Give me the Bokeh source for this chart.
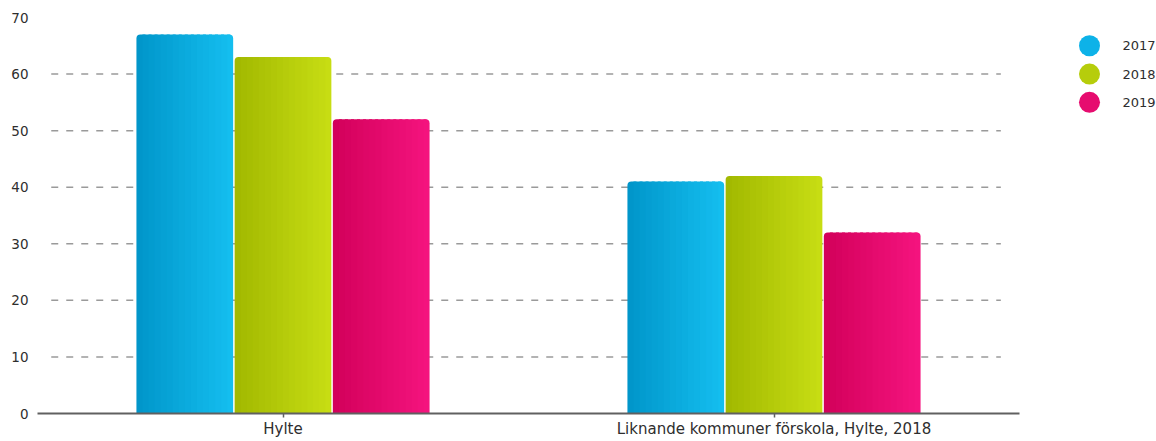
from bokeh.plotting import figure
from bokeh.models import FactorRange, Range1d, ColumnDataSource, FixedTicker
from bokeh.layouts import row
from bokeh.transform import dodge
from bokeh.core.properties import value
from bokeh.embed import file_html
from bokeh.resources import INLINE

# ---- data ----
categories = ["Hylte", "Liknande kommuner förskola, Hylte, 2018"]
years = ["2017", "2018", "2019"]
v2017 = [67, 41]
v2018 = [63, 42]
v2019 = [52, 32]
y_ticks = [0, 10, 20, 30, 40, 50, 60, 70]
grid_values = [10, 20, 30, 40, 50, 60]

grad_left = ["#0095c9", "#a1b800", "#d2005a"]
grad_right = ["#15bff0", "#c8de14", "#f5147f"]
legend_colors = ["#0db2e8", "#b6cd0b", "#e60c6f"]

FONT = "DejaVu Sans"
TXT = "#2e2e2e"


def hex2rgb(h):
    h = h.lstrip("#")
    return tuple(int(h[i:i + 2], 16) for i in (0, 2, 4))


def mix(c1, c2, t):
    a, b = hex2rgb(c1), hex2rgb(c2)
    return "#%02x%02x%02x" % tuple(round(a[k] + (b[k] - a[k]) * t) for k in range(3))


W_TOTAL = 1156
W_MAIN = 1029
H = 441

y_range = Range1d(0, 70)
p = figure(x_range=FactorRange(*categories), y_range=y_range,
           width=W_MAIN, height=H, output_backend="svg", toolbar_location=None,
           min_border_left=37, min_border_top=17, min_border_bottom=28,
           min_border_right=10)
p.outline_line_color = None
p.background_fill_color = "white"
p.border_fill_color = "white"
p.xgrid.visible = False
p.ygrid.visible = False

# axes styling
p.yaxis.ticker = FixedTicker(ticks=y_ticks)
p.yaxis.axis_line_color = None
p.yaxis.major_tick_line_color = None
p.yaxis.minor_tick_line_color = None
p.yaxis.major_tick_out = 0
p.yaxis.major_tick_in = 0
p.yaxis.minor_tick_out = 0
p.yaxis.major_label_standoff = 9
p.yaxis.major_label_text_font = FONT
p.yaxis.major_label_text_font_size = "13.5px"
p.yaxis.major_label_text_color = TXT

p.xaxis.axis_line_color = "#606060"
p.xaxis.axis_line_width = 2
p.xaxis.major_tick_line_color = "#606060"
p.xaxis.major_tick_line_width = 1.5
p.xaxis.major_tick_in = 0
p.xaxis.major_tick_out = 4
p.xaxis.major_label_standoff = 2
p.xaxis.major_label_text_font = FONT
p.xaxis.major_label_text_font_size = "15px"
p.xaxis.major_label_text_color = TXT

# dashed gridlines, slightly inset from the frame edges
gsrc = ColumnDataSource(dict(c0=[categories[0]] * len(grid_values),
                             c1=[categories[-1]] * len(grid_values),
                             y=grid_values))
p.segment(x0=dodge("c0", -0.472, range=p.x_range), x1=dodge("c1", 0.462, range=p.x_range),
          y0="y", y1="y", source=gsrc,
          line_color="#9a9a9a", line_width=1.5, line_dash="7 8")

# gradient bars drawn as vertical strips
BAR_STEP = 0.2
BAR_W = 0.197
N = 16
sw = BAR_W / N
R = 4
src = ColumnDataSource(dict(cat=categories, v2017=v2017, v2018=v2018, v2019=v2019))
for s, yr in enumerate(years):
    base = (s - 1) * BAR_STEP - BAR_W / 2
    for i in range(N):
        color = mix(grad_left[s], grad_right[s], (i + 0.5) / N)
        left = base + i * sw
        w = sw * 1.5 if i < N - 1 else sw
        center = left + w / 2
        if i == 0:
            br = (R, 0, 0, 0)
        elif i == N - 1:
            br = (0, R, 0, 0)
        else:
            br = 0
        p.vbar(x=dodge("cat", center, range=p.x_range), top="v" + yr, bottom=0,
               width=w, source=src, fill_color=color, line_color=None,
               border_radius=br)

# ---- legend as a small side figure (frame aligned with the main frame) ----
W_LEG = W_TOTAL - W_MAIN
lg = figure(width=W_LEG, height=H, output_backend="svg", toolbar_location=None,
            x_range=Range1d(0, W_LEG), y_range=y_range,
            x_axis_location=None, y_axis_location=None,
            min_border=0)
lg.outline_line_color = None
lg.xgrid.visible = False
lg.ygrid.visible = False
ly = [65 - 5 * i for i in range(len(years))]
lsrc = ColumnDataSource(dict(x=[60] * len(years), tx=[93] * len(years), y=ly,
                             c=legend_colors, t=years))
lg.scatter(x="x", y="y", size=21, fill_color="c", line_color=None, source=lsrc)
lg.text(x="tx", y="y", text="t", source=lsrc, text_font=value(FONT),
        text_font_size="13px", text_color=TXT, text_baseline="middle")

layout = row(p, lg, spacing=0)
open("out.html", "w").write(file_html(layout, INLINE))
